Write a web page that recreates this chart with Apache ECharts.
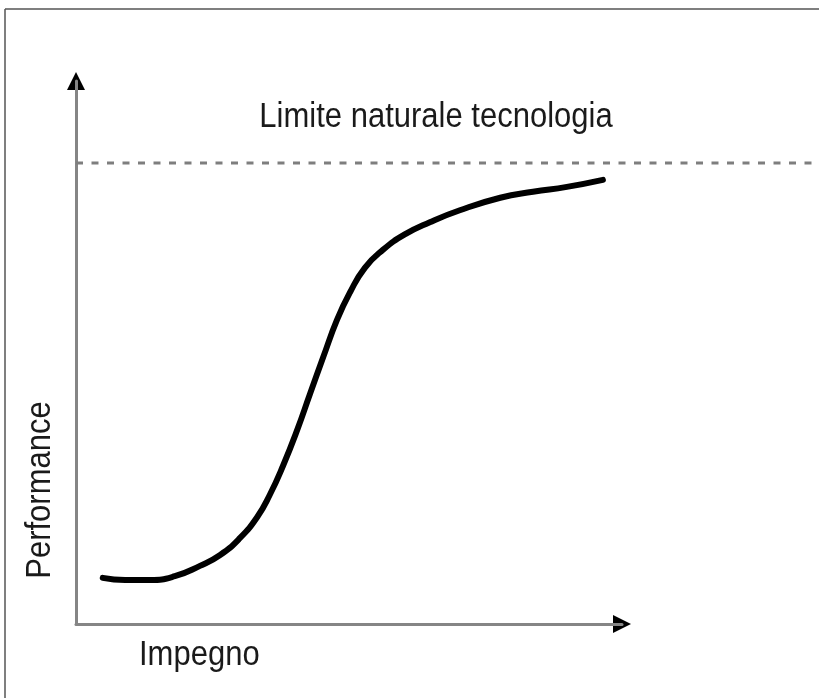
<!DOCTYPE html>
<html>
<head>
<meta charset="utf-8">
<script src="https://cdn.jsdelivr.net/npm/echarts@6/dist/echarts.min.js"></script>
<style>
  html,body{margin:0;padding:0;background:#fff;}
  #chart{width:819px;height:698px;}
</style>
</head>
<body>
<div id="chart"></div>
<script>
// curva ad S (impegno -> performance)
const impegno = [4.9, 9.0, 13.6, 18.1, 22.7, 26.4, 30.0, 33.2, 35.5, 37.9, 40.5, 42.9, 45.3, 47.8, 50.2, 52.9, 56.2, 60.3, 64.8, 70.3, 77.7, 83.7, 89.9, 96.5]
const performance = [8.5, 8.1, 8.1, 8.8, 10.7, 12.7, 15.8, 19.7, 23.8, 29.1, 35.7, 42.5, 49.2, 56.0, 61.1, 65.6, 68.9, 71.8, 74.0, 76.2, 78.5, 79.6, 80.5, 81.8]
const limite = 84.9
const limiteX = [0, 100]

let chart = echarts.init(document.getElementById('chart'))

let curve = impegno.map((x, i) => [x, performance[i]])
let limitLine = limiteX.map(x => [x, limite])

const axisGray = '#858585'
const font = '31px "Liberation Sans", Arial, sans-serif'

let option = {
  backgroundColor: '#fff',
  animation: false,
  grid: [
    {left: 76, right: 197, top: 81, bottom: 74},
    {left: 76, right: 0, top: 81, bottom: 74}
  ],
  xAxis: [
    {
      type: 'value', gridIndex: 0, min: 0, max: 100,
      axisLine: {show: true, lineStyle: {color: axisGray, width: 3}},
      axisTick: {show: false},
      axisLabel: {show: false},
      splitLine: {show: false}
    },
    {type: 'value', gridIndex: 1, min: 0, max: 100, show: false}
  ],
  yAxis: [
    {
      type: 'value', gridIndex: 0, min: 0, max: 100,
      axisLine: {show: true, lineStyle: {color: axisGray, width: 3}},
      axisTick: {show: false},
      axisLabel: {show: false},
      splitLine: {show: false}
    },
    {type: 'value', gridIndex: 1, min: 0, max: 100, show: false}
  ],
  series: [
    {
      type: 'line',
      xAxisIndex: 1,
      yAxisIndex: 1,
      data: limitLine,
      symbol: 'none',
      silent: true,
      lineStyle: {color: '#7e7e7e', width: 3, type: [7, 8.5]}
    },
    {
      type: 'line',
      xAxisIndex: 0,
      yAxisIndex: 0,
      data: curve,
      smooth: 0.5,
      symbol: 'none',
      lineStyle: {color: '#000', width: 6, cap: 'round'}
    }
  ],
  graphic: [
    // cornice
    {type: 'line', shape: {x1: 5, y1: 9, x2: 5, y2: 698}, style: {stroke: '#555', lineWidth: 1.5}},
    {type: 'line', shape: {x1: 5, y1: 9, x2: 819, y2: 9}, style: {stroke: '#555', lineWidth: 1.5}},
    {
      type: 'text', x: 436, y: 135, scaleY: 1.12,
      style: {text: 'Limite naturale tecnologia', font: font, fill: '#1a1a1a', textAlign: 'center', textVerticalAlign: 'bottom'}
    },
    {
      type: 'text', x: 139, y: 673, scaleY: 1.15,
      style: {text: 'Impegno', font: font, fill: '#1a1a1a', textAlign: 'left', textVerticalAlign: 'bottom'}
    },
    {
      type: 'text', x: 58, y: 490, rotation: Math.PI / 2, scaleY: 1.12,
      style: {text: 'Performance', font: font, fill: '#1a1a1a', textAlign: 'center', textVerticalAlign: 'bottom'}
    }
  ]
}

chart.setOption(option)

// frecce nere in cima agli assi
let yEnd = chart.convertToPixel({gridIndex: 0}, [0, 100])
let xEnd = chart.convertToPixel({gridIndex: 0}, [100, 0])
chart.setOption({
  graphic: [
    {
      type: 'polygon', id: 'arrowY',
      shape: {points: [[yEnd[0], yEnd[1] - 9], [yEnd[0] - 9, yEnd[1] + 9], [yEnd[0] + 9, yEnd[1] + 9]]},
      style: {fill: '#000'}
    },
    {
      type: 'polygon', id: 'arrowX',
      shape: {points: [[xEnd[0] + 9, xEnd[1]], [xEnd[0] - 9, xEnd[1] - 9], [xEnd[0] - 9, xEnd[1] + 9]]},
      style: {fill: '#000'}
    }
  ]
})
</script>
</body>
</html>
